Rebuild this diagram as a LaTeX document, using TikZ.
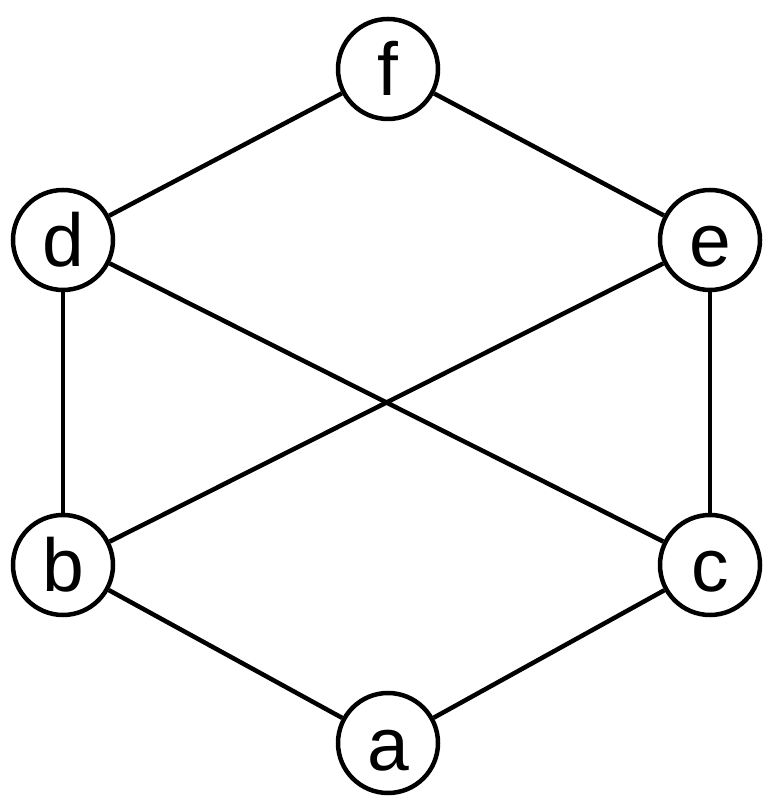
\documentclass[tikz,border=0pt]{standalone}
\usepackage{fontspec}
\setmainfont{Liberation Sans}
\begin{document}
\begin{tikzpicture}[x=1pt,y=1pt,
  vtx/.style={circle,draw,line width=4.5pt,minimum size=100pt,inner sep=0pt,
    font=\fontsize{75}{75}\selectfont,text height=54pt,text depth=0pt},
  edge/.style={line width=4.5pt}]
\useasboundingbox (0,0) rectangle (763,797);
\node[vtx] (f) at (388,728) {f};
\node[vtx] (d) at (63,557) {d};
\node[vtx] (e) at (710,557) {e};
\node[vtx] (b) at (63,232) {b};
\node[vtx] (c) at (710,232) {c};
\node[vtx] (a) at (388,54) {a};
\draw[edge] (f) -- (d);
\draw[edge] (f) -- (e);
\draw[edge] (d) -- (b);
\draw[edge] (d) -- (c);
\draw[edge] (e) -- (b);
\draw[edge] (e) -- (c);
\draw[edge] (b) -- (a);
\draw[edge] (c) -- (a);
\end{tikzpicture}
\end{document}
